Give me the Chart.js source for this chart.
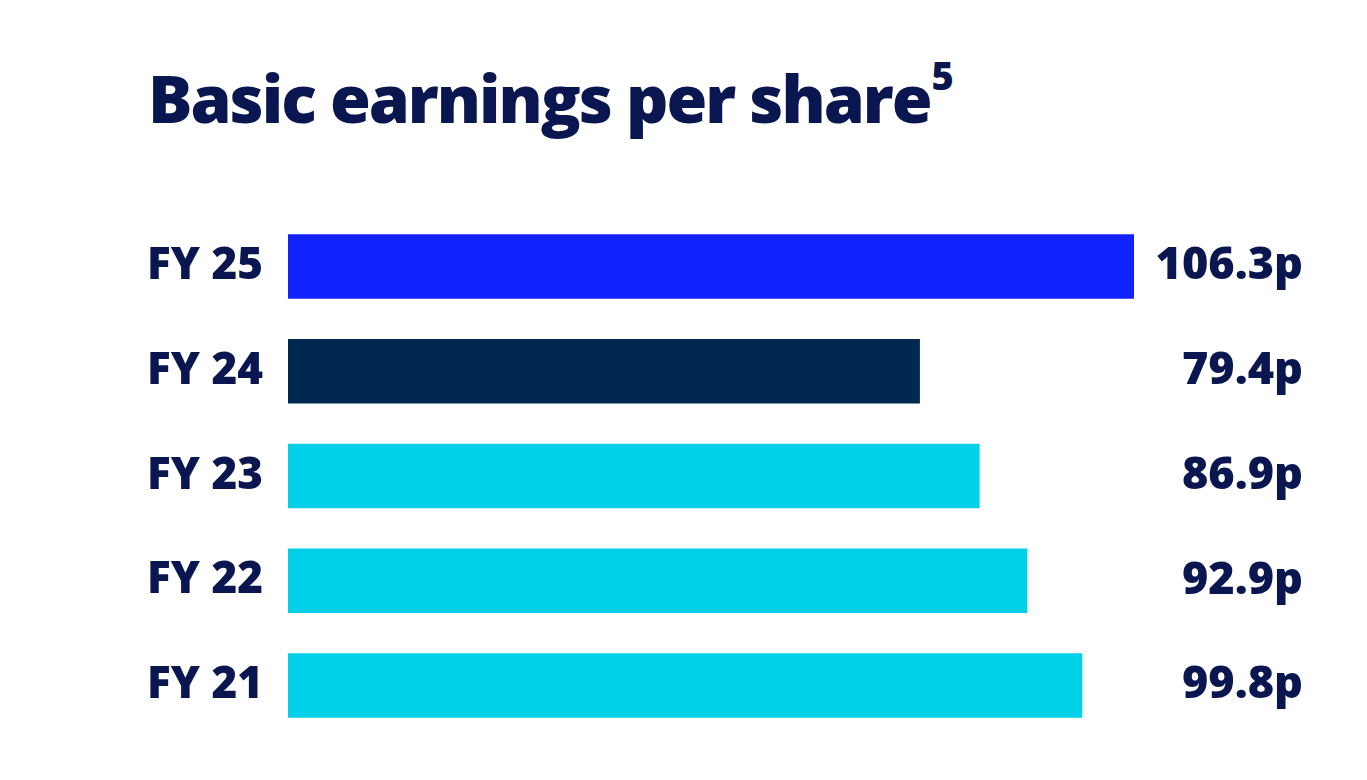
<!DOCTYPE html>
<html>
<head>
<meta charset="utf-8">
<script src="https://cdn.jsdelivr.net/npm/chart.js@4"></script>
<style>
	html, body { margin: 0; padding: 0; background: #fff; }
	#wrap { position: relative; width: 1367px; height: 780px; }
	#title {
		position: absolute; left: 148px; top: 52px; margin: 0;
		font: 800 66px 'Open Sans', sans-serif; color: #0a1650; letter-spacing: -2px;
		white-space: nowrap; line-height: 90px;
	}
	#title sup {
		font-size: 38px; letter-spacing: 0; margin-left: 1px;
		vertical-align: baseline; position: relative; top: -33px;
	}
	canvas { position: absolute; left: 0; top: 0; }
</style>
</head>
<body>
<div id="wrap">
	<h1 id="title">Basic earnings per share<sup>5</sup></h1>
	<canvas id="myChart" width="1367" height="780"></canvas>
</div>
<script>
const years = ['FY 25', 'FY 24', 'FY 23', 'FY 22', 'FY 21']
const eps = [106.3, 79.4, 86.9, 92.9, 99.8]
const barColors = ['#1023ff', '#002850', '#00d1e8', '#00d1e8', '#00d1e8']
const textColor = '#0a1650'

// values printed at the right of each bar
const valueLabels = {
	id: 'valueLabels',
	afterDatasetsDraw(chart) {
		const ctx = chart.ctx
		const meta = chart.getDatasetMeta(0)
		ctx.save()
		ctx.font = '800 45px "Open Sans"'
		ctx.fillStyle = textColor
		ctx.textAlign = 'right'
		ctx.textBaseline = 'middle'
		meta.data.forEach((bar, i) => {
			ctx.fillText(eps[i].toFixed(1) + 'p', 1303, bar.y)
		})
		ctx.restore()
	},
}

const chart = new Chart(document.getElementById('myChart').getContext('2d'), {
	type: 'bar',
	data: {
		labels: years,
		datasets: [
			{
				data: eps,
				backgroundColor: barColors,
				borderWidth: 0,
				categoryPercentage: 1,
				barPercentage: 0.615,
			},
		],
	},
	options: {
		indexAxis: 'y',
		responsive: false,
		animation: false,
		layout: { padding: { left: 0, right: 233, top: 214, bottom: 42 } },
		plugins: { legend: { display: false }, tooltip: { enabled: false } },
		scales: {
			x: { display: false, min: 0, max: 106.3 },
			y: {
				grid: { display: false, drawTicks: false, tickLength: 0 },
				border: { display: false },
				afterFit(scale) {
					scale.width = 288
					// the tick labels should not push the plot area in
					scale.paddingTop = 0
					scale.paddingBottom = 0
				},
				ticks: {
					padding: 25,
					color: textColor,
					font: { family: 'Open Sans', size: 44, weight: '800' },
				},
			},
		},
	},
	plugins: [valueLabels],
})
</script>
</body>
</html>
